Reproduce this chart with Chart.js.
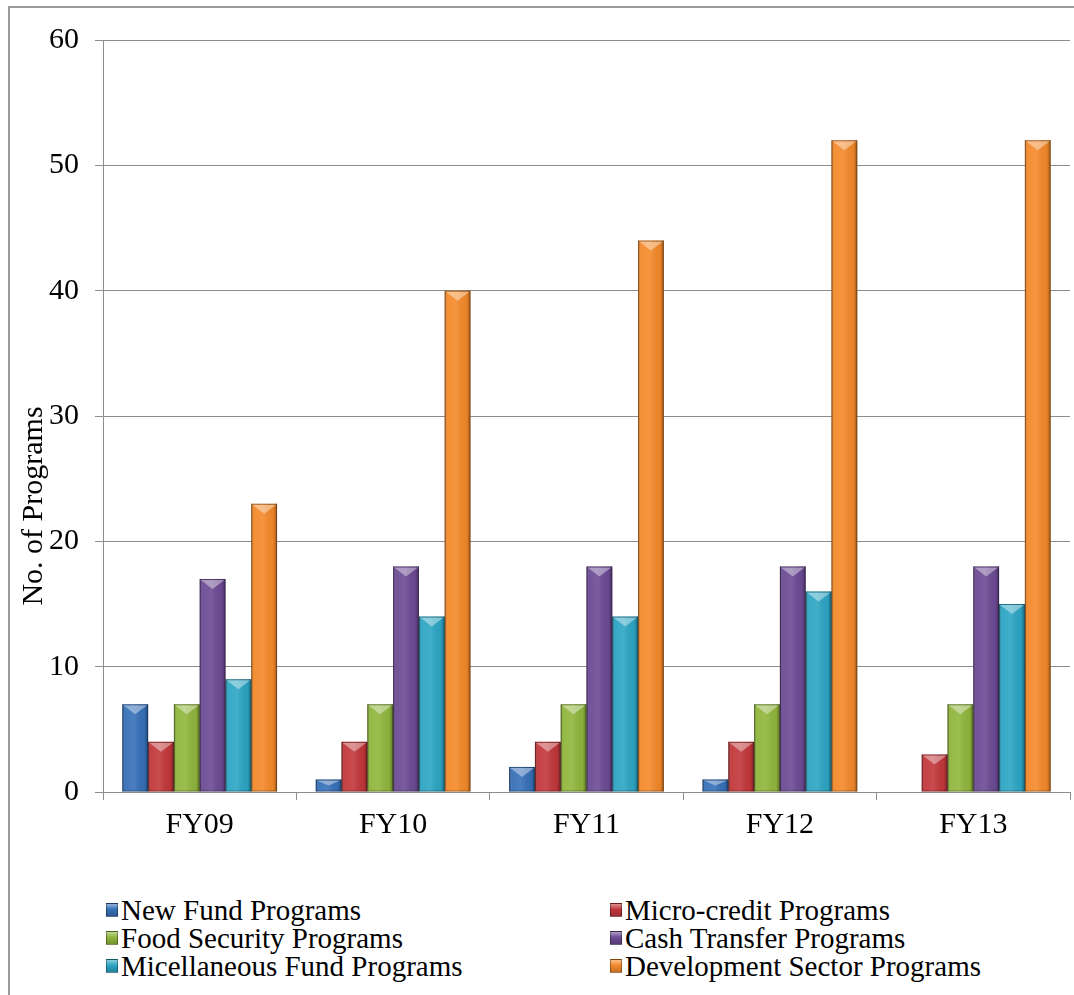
<!DOCTYPE html>
<html>
<head>
<meta charset="utf-8">
<title>Programs by category</title>
<script src="https://cdn.jsdelivr.net/npm/chart.js@4.4.1/dist/chart.umd.min.js"></script>
<style>
  body { margin: 0; background: #fff; font-family: "Liberation Serif", "Times New Roman", serif; }
  #frame { position: absolute; left: 8px; top: 6px; width: 1100px; height: 1100px; border: 2px solid #9a9a9a; box-sizing: border-box; }
  #programsChart { position: absolute; left: 0; top: 0; }
  #legend { position: absolute; left: 106px; top: 896px; display: grid; grid-template-columns: 504px auto; font-size: 29px; line-height: 28px; color: #000; }
  #legend .item { display: flex; align-items: center; white-space: nowrap; }
  #legend .box { width: 10px; height: 12px; margin-right: 3px; border: 1px solid rgba(0,0,0,0.35); }
</style>
</head>
<body>
<div id="frame"></div>
<canvas id="programsChart" width="1074" height="860"></canvas>
<div id="legend"></div>
<script>
// Number of programs per category, fiscal years 09-13
const years = ["FY09", "FY10", "FY11", "FY12", "FY13"];
const newFund = [7, 1, 2, 1, 0];
const microCredit = [4, 4, 4, 4, 3];
const foodSecurity = [7, 7, 7, 7, 7];
const cashTransfer = [17, 18, 18, 18, 18];
const micellaneousFund = [9, 14, 14, 16, 15];
const developmentSector = [23, 40, 44, 52, 52];
const yTicks = [0, 10, 20, 30, 40, 50, 60];

const seriesNames = ["New Fund Programs", "Micro-credit Programs", "Food Security Programs",
  "Cash Transfer Programs", "Micellaneous Fund Programs", "Development Sector Programs"];
const seriesData = [newFund, microCredit, foodSecurity, cashTransfer, micellaneousFund, developmentSector];
const seriesColors = ["#3670b8", "#c2373a", "#90b63c", "#6c4a94", "#2ca5c4", "#f4892a"];

const gridGrey = "#8c8c8c";
const axisFont = { family: "'Liberation Serif', 'Times New Roman', serif", size: 30 };

// glossy bevel drawn over each bar: darker sides, light chevron on top
const bevel = {
  id: "bevel",
  afterDatasetsDraw(chart) {
    const ctx = chart.ctx;
    chart.data.datasets.forEach((ds, i) => {
      chart.getDatasetMeta(i).data.forEach(bar => {
        const p = bar.getProps(["x", "y", "base", "width"], true);
        const h = p.base - p.y;
        if (h < 1) return;
        const l = p.x - p.width / 2, r = p.x + p.width / 2;
        ctx.save();
        const g = ctx.createLinearGradient(l, 0, r, 0);
        g.addColorStop(0, "rgba(0,0,0,0.3)");
        g.addColorStop(0.12, "rgba(255,255,255,0.05)");
        g.addColorStop(0.45, "rgba(255,255,255,0.1)");
        g.addColorStop(0.85, "rgba(0,0,0,0.04)");
        g.addColorStop(1, "rgba(0,0,0,0.35)");
        ctx.fillStyle = g;
        ctx.fillRect(l, p.y, p.width, h);

        const d = Math.min(10, h / 2);
        ctx.beginPath();
        ctx.moveTo(l + 1, p.y + 1);
        ctx.lineTo(r - 1, p.y + 1);
        ctx.lineTo(p.x, p.y + d);
        ctx.closePath();
        ctx.fillStyle = "rgba(255,255,255,0.4)";
        ctx.fill();

        ctx.strokeStyle = "rgba(0,0,0,0.3)";
        ctx.lineWidth = 1;
        ctx.strokeRect(l + 0.5, p.y + 0.5, p.width - 1, h - 1);
        ctx.restore();
      });
    });
  }
};

// y-axis caption, placed a little below the middle of the axis
const yCaption = {
  id: "yCaption",
  afterDraw(chart, args, opts) {
    const ctx = chart.ctx;
    ctx.save();
    ctx.translate(opts.x, opts.y);
    ctx.rotate(-Math.PI / 2);
    ctx.font = axisFont.size + "px " + axisFont.family;
    ctx.fillStyle = "#000";
    ctx.textAlign = "center";
    ctx.textBaseline = "middle";
    ctx.fillText(opts.text, 0, 0);
    ctx.restore();
  }
};

const ctx = document.getElementById("programsChart").getContext("2d");
const programsChart = new Chart(ctx, {
  type: "bar",
  data: {
    labels: years,
    datasets: seriesNames.map((name, i) => ({
      label: name,
      data: seriesData[i],
      backgroundColor: seriesColors[i],
      borderWidth: 0,
      categoryPercentage: 0.8,
      barPercentage: 1.0
    }))
  },
  options: {
    responsive: false,
    animation: false,
    layout: { padding: { top: 40, right: 4, left: 0, bottom: 0 } },
    plugins: {
      legend: { display: false },
      tooltip: { enabled: false },
      yCaption: { text: "No. of Programs", x: 34, y: 506 }
    },
    scales: {
      x: {
        grid: { drawOnChartArea: false, offset: true, tickLength: 8, color: gridGrey },
        border: { color: gridGrey },
        ticks: { font: axisFont, color: "#000", padding: 7 },
        afterFit: s => { s.height = 68; }
      },
      y: {
        min: 0,
        max: 60,
        afterBuildTicks: s => { s.ticks = yTicks.map(v => ({ value: v })); },
        grid: { color: gridGrey, tickLength: 8 },
        border: { color: gridGrey },
        ticks: { font: axisFont, color: "#000", padding: 16 },
        afterFit: s => { s.width = 103; }
      }
    }
  },
  plugins: [bevel, yCaption]
});

// legend in two columns under the plot
const legend = document.getElementById("legend");
programsChart.data.datasets.forEach(ds => {
  const item = document.createElement("div");
  item.className = "item";
  const box = document.createElement("span");
  box.className = "box";
  box.style.background = "linear-gradient(to bottom, rgba(255,255,255,0.45), rgba(255,255,255,0) 45%, rgba(0,0,0,0.2)), " + ds.backgroundColor;
  item.appendChild(box);
  item.appendChild(document.createTextNode(ds.label));
  legend.appendChild(item);
});
</script>
</body>
</html>
